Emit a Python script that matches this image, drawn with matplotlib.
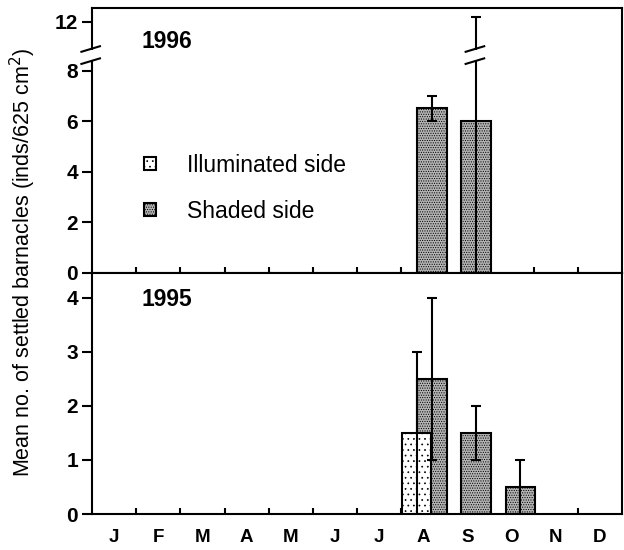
import matplotlib
matplotlib.use('Agg')
import matplotlib.pyplot as plt
import numpy as np
from matplotlib.patches import Patch

plt.rcParams['font.family'] = ['Liberation Sans', 'DejaVu Sans']
plt.rcParams['hatch.linewidth'] = 0.5

months = ['J', 'F', 'M', 'A', 'M', 'J', 'J', 'A', 'S', 'O', 'N', 'D']
shaded_1996 = [0, 0, 0, 0, 0, 0, 0, 6.5, 6.0, 0, 0, 0]
shaded_1996_sd = [0, 0, 0, 0, 0, 0, 0, 0.5, 6.4, 0, 0, 0]
illum_1995 = [0, 0, 0, 0, 0, 0, 0, 1.5, 0, 0, 0, 0]
illum_1995_sd = [0, 0, 0, 0, 0, 0, 0, 1.5, 0, 0, 0, 0]
shaded_1995 = [0, 0, 0, 0, 0, 0, 0, 2.5, 1.5, 0.5, 0, 0]
shaded_1995_sd = [0, 0, 0, 0, 0, 0, 0, 1.5, 0.5, 0.5, 0, 0]
top_ticks = [0, 2, 4, 6, 8, 12]
bottom_ticks = [0, 1, 2, 3, 4]

BREAK = 8.0
COMP = 0.48


def brk(v):
    v = np.asarray(v, dtype=float)
    return np.where(v <= BREAK, v, BREAK + (v - BREAK) * COMP)


ILL = dict(facecolor='white', edgecolor='black', hatch='...', linewidth=1.5)
SHA = dict(facecolor='#b4b4b4', edgecolor='black', hatch='.......', linewidth=1.5)

fig = plt.figure(figsize=(6.24, 5.5), dpi=100)
ax1 = fig.add_axes([92 / 624, 1 - 273 / 550, 530 / 624, 265 / 550])
ax2 = fig.add_axes([92 / 624, 1 - 514 / 550, 530 / 624, 241 / 550])

x = np.arange(12)
W = 0.67
OFF_I = 0.35
OFF_S = 0.70

# ---- 1996 panel
s96 = np.array(shaded_1996)
e96 = np.array(shaded_1996_sd)
m = s96 > 0
ax1.bar(x[m] + OFF_S, s96[m], width=W, zorder=2, **SHA)
up = brk(s96[m] + e96[m]) - s96[m]
lo = np.minimum(e96[m], s96[m])
ax1.errorbar(x[m] + OFF_S, s96[m], yerr=[lo, up], fmt='none', ecolor='black',
             elinewidth=1.5, capsize=3.5, capthick=1.5, zorder=4)

# break marks
b_lo, b_hi = 8.37, 8.85
for xc in (0.0, 8 + OFF_S):
    ax1.plot([xc, xc], [b_lo + 0.03, b_hi - 0.03], color='white', lw=3,
             clip_on=False, zorder=6, solid_capstyle='butt')
    for yb in (b_lo, b_hi):
        ax1.plot([xc - 0.24, xc + 0.18], [yb - 0.11, yb + 0.11], color='black',
                 lw=1.5, clip_on=False, zorder=7)

ax1.set_ylim(0, 10.47)
ax1.set_yticks(brk(top_ticks))
ax1.set_yticklabels([str(t) for t in top_ticks])
ax1.text(0.094, 0.872, '1996', transform=ax1.transAxes, fontsize=16.5,
         fontweight='bold', va='center', ha='left')

handles = [Patch(**ILL), Patch(**SHA)]
ax1.legend(handles, ['Illuminated side', 'Shaded side'], loc='upper left',
           bbox_to_anchor=(0.08, 0.485), frameon=False, fontsize=16.5,
           handlelength=0.55, handleheight=0.55, handletextpad=1.35,
           labelspacing=1.0, borderaxespad=0)

# ---- 1995 panel
i95 = np.array(illum_1995)
ie95 = np.array(illum_1995_sd)
s95 = np.array(shaded_1995)
se95 = np.array(shaded_1995_sd)
ms = s95 > 0
mi = i95 > 0
ax2.bar(x[ms] + OFF_S, s95[ms], width=W, zorder=2, **SHA)
ax2.bar(x[mi] + OFF_I, i95[mi], width=W, zorder=3, **ILL)
ax2.errorbar(x[ms] + OFF_S, s95[ms], yerr=se95[ms], fmt='none', ecolor='black',
             elinewidth=1.5, capsize=3.5, capthick=1.5, zorder=4)
ax2.errorbar(x[mi] + OFF_I, i95[mi], yerr=ie95[mi], fmt='none', ecolor='black',
             elinewidth=1.5, capsize=3.5, capthick=1.5, zorder=4)
ax2.set_ylim(0, 4.46)
ax2.set_yticks(bottom_ticks)
ax2.text(0.094, 0.888, '1995', transform=ax2.transAxes, fontsize=16.5,
         fontweight='bold', va='center', ha='left')

for ax in (ax1, ax2):
    ax.set_xlim(0, 12)
    ax.set_xticks(x + 0.5)
    ax.set_xticks(np.arange(1, 12), minor=True)
    ax.tick_params(axis='x', which='major', length=0, pad=11)
    ax.tick_params(axis='x', which='minor', direction='in', length=4, width=1.5)
    ax.tick_params(axis='y', direction='out', length=7, width=1.5, pad=3)
    for sp in ax.spines.values():
        sp.set_linewidth(1.5)
    for lab in ax.get_yticklabels():
        lab.set_fontweight('bold')
        lab.set_fontsize(15)

ax1.set_xticklabels([])
ax2.set_xticklabels(months, fontweight='bold', fontsize=13.5)

fig.text(0.037, 1 - 262 / 550,
         'Mean no. of settled barnacles (inds/625 cm$^2$)',
         rotation=90, va='center', ha='center', fontsize=15.5)

fig.savefig('out.png', dpi=100)
